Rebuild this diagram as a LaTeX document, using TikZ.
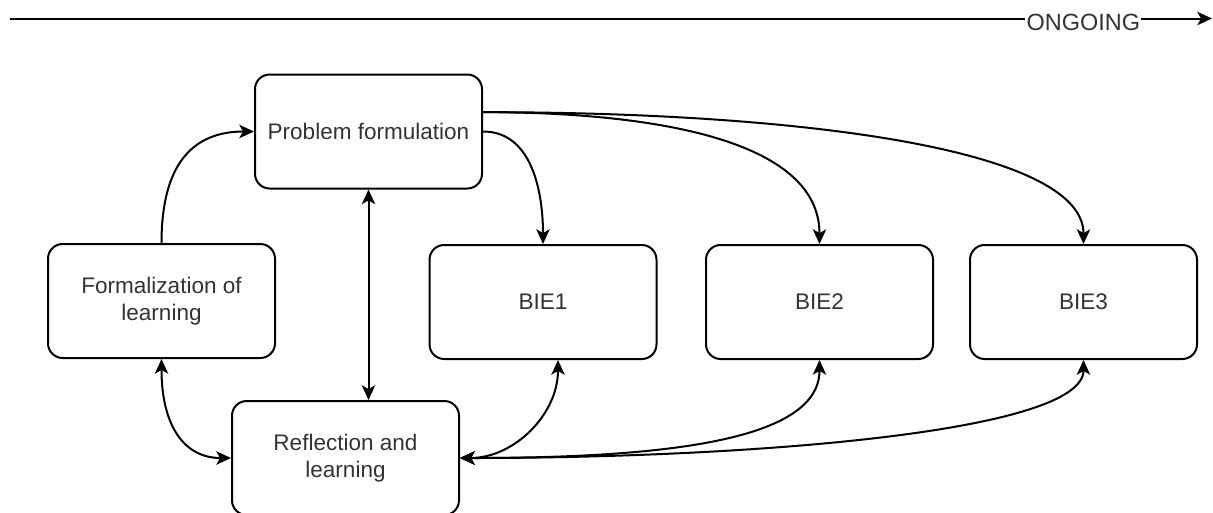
\documentclass[tikz,border=0pt]{standalone}
\usepackage{fontspec}
\setmainfont{Liberation Sans}
\usetikzlibrary{arrows.meta,calc}
\begin{document}
\begin{tikzpicture}[x=0.75pt,y=-0.75pt,
  txt/.style={font=\fontsize{16.9}{20.5}\selectfont, text=black!80},
  box/.style={txt, draw, line width=1.5pt, rounded corners=11pt,
    minimum width=170.25pt, minimum height=85.5pt, align=center, inner sep=0pt},
  tip/.tip={Stealth[length=11pt,width=10pt,inset=2.8pt]},
  link/.style={line width=1.5pt, -tip},
  both/.style={line width=1.5pt, tip-tip}
]
\useasboundingbox (0,0) rectangle (1213,512);

% time line
\coordinate (ts) at (10,18.5);
\coordinate (te) at (1212,18.5);
\draw[link] (ts) -- node (og) [pos=0.893, fill=white, inner sep=1pt, yshift=-3pt,
  font=\fontsize{17.6}{20}\selectfont, text=black!80] {ONGOING} (te);

% stages
\node[box] (pf) at (368.5,131.5) {Problem formulation};
\node[box] (fl) at (161.5,301) {Formalization of\\learning};
\node[box] (b1) at (543,302) {BIE1};
\node[box] (b2) at (819.5,302) {BIE2};
\node[box] (b3) at (1083.5,302) {BIE3};
\node[box] (rl) at (345.5,458) {Reflection and\\learning};

% connections
\draw[link] (fl.north) .. controls +(0,-78) and +(-62,0) .. (pf.west);
\draw[both] (pf.south) -- (pf.south |- rl.north);
\draw[both] (fl.south) .. controls +(0,65) and +(-48,0) .. (rl.west);
\draw[link] (pf.east) to[out=0,in=90] (b1.north);
\coordinate (pfo) at ($(pf.north east)!1/3!(pf.south east)$);
\draw[link] (pfo) .. controls +(168,0) and +(0,-105) .. (b2.north);
\draw[link] (pfo) .. controls +(318,0) and +(0,-95) .. (b3.north);
\coordinate (b1s) at ($(b1.south)+(15,0)$);
\draw[both] (rl.east) to[out=0,in=-90] (b1s);
\draw[both] (rl.east) .. controls +(222,0) and +(0,77) .. (b2.south);
\draw[both] (rl.east) .. controls +(292,0) and +(0,72) .. (b3.south);
\end{tikzpicture}
\end{document}
